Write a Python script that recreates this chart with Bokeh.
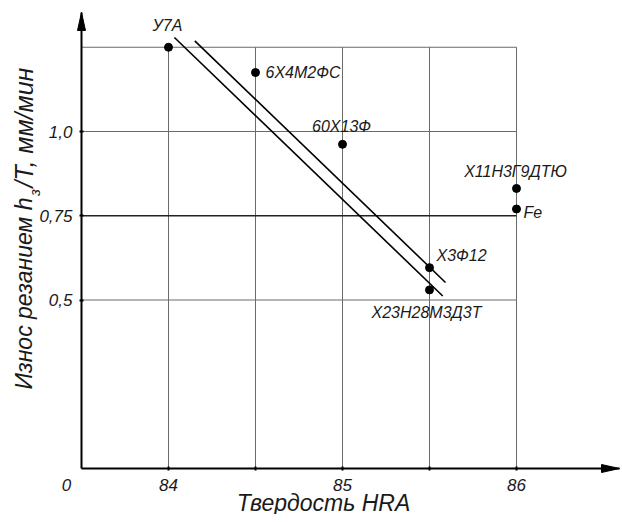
import math
from bokeh.plotting import figure
from bokeh.models import Range1d, FixedTicker, Label, ColumnDataSource
from bokeh.core.properties import value
from bokeh.embed import file_html
from bokeh.resources import INLINE

# ---------------- data ----------------
hardness = [84.0, 84.5, 85.0, 86.0, 86.0, 85.5, 85.5]
wear = [1.25, 1.175, 0.962, 0.831, 0.77, 0.596, 0.53]
steel = ["У7А", "6Х4М2ФС", "60Х13Ф", "Х11Н3Г9ДТЮ", "Fe", "Х3Ф12", "Х23Н28М3Д3Т"]

band_low_x = [84.034, 85.576]
band_low_y = [1.279, 0.512]
band_high_x = [84.151, 85.592]
band_high_y = [1.269, 0.552]

x_major = [84.0, 85.0, 86.0]
x_minor = [84.5, 85.5]
y_major = [0.5, 0.75, 1.0]
y_tick_labels = {0.5: "0,5", 0.75: "0,75", 1.0: "1,0"}
grid_x = [84.0, 84.5, 85.0, 85.5, 86.0]
grid_y = [0.5, 0.75, 1.0, 1.25]
x_origin = 83.5
y_origin = 0.0
origin_label = "0"
x_title = "Твердость HRA"
y_title_parts = ["Износ резанием h", "з", "/T, мм/мин"]

# ---------------- style / layout ----------------
W, H = 620, 514
ORIGIN_PX, ORIGIN_PY = 81, 468      # where the axes cross, in page pixels
X_TIP_PX, Y_TIP_PY = 619, 12        # arrow tips
PX_X = 174.0   # pixels per HRA unit
PX_Y = 337.0   # pixels per mm/min unit
x_start = x_origin - ORIGIN_PX / PX_X
x_stop = x_origin + (W - ORIGIN_PX) / PX_X
y_start = y_origin - (H - ORIGIN_PY) / PX_Y
y_stop = y_origin + ORIGIN_PY / PX_Y
x_tip = x_origin + (X_TIP_PX - ORIGIN_PX) / PX_X
y_tip = y_origin + (ORIGIN_PY - Y_TIP_PY) / PX_Y

FONT = "Liberation Sans"
INK = "#1a1a1a"

p = figure(frame_width=W, frame_height=H,
           min_border_left=0, min_border_right=0, min_border_top=0, min_border_bottom=0,
           x_range=Range1d(x_start, x_stop), y_range=Range1d(y_start, y_stop),
           output_backend="svg", toolbar_location=None)
p.outline_line_color = None
p.background_fill_color = "white"
p.border_fill_color = "white"
p.xgrid.visible = False
p.ygrid.visible = False

# axes crossing at the origin
p.xaxis.fixed_location = y_origin
p.yaxis.fixed_location = x_origin
p.xaxis.bounds = (x_origin, x_tip)
p.yaxis.bounds = (y_origin, y_tip)
for ax in (p.xaxis[0], p.yaxis[0]):
    ax.axis_line_width = 2
    ax.axis_line_color = "black"
    ax.major_tick_line_color = "black"
    ax.major_tick_line_width = 2
    ax.major_tick_in = 2
    ax.major_tick_out = 2
    ax.minor_tick_line_color = "black"
    ax.minor_tick_line_width = 2
    ax.minor_tick_in = 2
    ax.minor_tick_out = 2
    ax.major_label_text_font = FONT
    ax.major_label_text_font_style = "italic"
    ax.major_label_text_font_size = "17px"
    ax.major_label_text_color = INK

p.xaxis.ticker = FixedTicker(ticks=x_major, minor_ticks=x_minor)
p.xaxis.major_label_standoff = 8
p.yaxis.ticker = FixedTicker(ticks=y_major, minor_ticks=[])
p.yaxis.major_label_overrides = y_tick_labels
p.yaxis.major_label_standoff = 7

# grid lines (limited extent)
gx_top = max(grid_y)
gy_right = max(grid_x)
p.segment(x0=grid_x, y0=[y_origin] * len(grid_x), x1=grid_x, y1=[gx_top] * len(grid_x),
          line_color="#6a6a6a", line_width=1)
p.segment(x0=[x_origin] * len(grid_y), y0=grid_y, x1=[gy_right] * len(grid_y), y1=grid_y,
          line_color=["#6a6a6a", "#222222", "#6a6a6a", "#6a6a6a"], line_width=[1, 1.3, 1, 1])

# arrow heads on axes
ah_len, ah_half = 18.0, 4.0
p.patch([x_origin - ah_half / PX_X, x_origin, x_origin + ah_half / PX_X],
        [y_tip - ah_len / PX_Y, y_tip, y_tip - ah_len / PX_Y],
        fill_color="black", line_color="black", line_width=1)
p.patch([x_tip - ah_len / PX_X, x_tip, x_tip - ah_len / PX_X],
        [y_origin - ah_half / PX_Y, y_origin, y_origin + ah_half / PX_Y],
        fill_color="black", line_color="black", line_width=1)

# band lines
p.line(band_low_x, band_low_y, line_color="black", line_width=1.6)
p.line(band_high_x, band_high_y, line_color="black", line_width=1.6)

# points
src = ColumnDataSource(dict(
    x=hardness, y=wear, name=steel,
    dx=[-1, 10, -1, -1, 7, 7, -3],
    dy=[-22, 0, -18, -17, 3, -12, 23],
    align=["center", "left", "center", "center", "left", "left", "center"],
))
p.scatter("x", "y", source=src, size=8, marker="circle", fill_color="black", line_color="black")
p.text("x", "y", text="name", source=src, x_offset="dx", y_offset="dy",
       text_align="align", text_baseline="middle",
       text_font=value(FONT), text_font_style="italic", text_font_size="16px",
       text_color=INK)

# axis titles and origin label (screen units; frame == canvas)
def add_text(px, py, txt, size, align="center", angle=0.0):
    p.add_layout(Label(x=px, y=H - py, text=txt, x_units="screen", y_units="screen",
                       angle=angle, text_align=align, text_baseline="middle",
                       text_font=FONT, text_font_style="italic", text_font_size=size,
                       text_color=INK))

add_text(66, 484, origin_label, "17px")
add_text(323, 502, x_title, "23px")
add_text(23, 197, y_title_parts[0], "23px", "right", math.pi / 2)
add_text(34, 192, y_title_parts[1], "15px", "center", math.pi / 2)
add_text(23, 187, y_title_parts[2], "25px", "left", math.pi / 2)

open("out.html", "w").write(file_html(p, INLINE))
